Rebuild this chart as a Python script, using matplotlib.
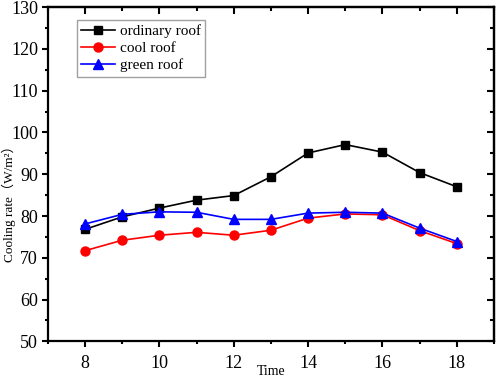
import numpy as np
import matplotlib.pyplot as plt
from matplotlib.ticker import MultipleLocator

plt.rcParams['font.family'] = ['Liberation Serif', 'Noto Sans CJK SC']

time = [8, 9, 10, 11, 12, 13, 14, 15, 16, 17, 18]
ordinary_roof = [76.8, 79.8, 81.9, 83.8, 84.9, 89.4, 95.1, 97.1, 95.3, 90.4, 87.0]
cool_roof = [71.7, 74.2, 75.4, 76.1, 75.4, 76.6, 79.5, 80.5, 80.3, 76.5, 73.4]
green_roof = [78.1, 80.4, 81.0, 80.9, 79.2, 79.2, 80.7, 80.9, 80.7, 77.1, 73.9]

fig = plt.figure(figsize=(4.98, 3.78), dpi=100)
ax = fig.add_axes([0.096, 0.097, 0.896, 0.884])

ax.plot(time, ordinary_roof, color='black', marker='s', markersize=6, linewidth=1.2, label='ordinary roof')
ax.plot(time, cool_roof, color='red', marker='o', markersize=6.5, linewidth=1.2, label='cool roof')
ax.plot(time, green_roof, color='blue', marker='^', markersize=7, linewidth=1.2, label='green roof')

ax.set_xlim(7, 19)
ax.set_ylim(50, 130)
ax.xaxis.set_major_locator(MultipleLocator(2))
ax.xaxis.set_minor_locator(MultipleLocator(1))
ax.yaxis.set_major_locator(MultipleLocator(10))
ax.yaxis.set_minor_locator(MultipleLocator(5))
ax.tick_params(which='both', direction='out', labelsize=13, width=1.5)
ax.tick_params(which='major', length=4)
ax.tick_params(which='minor', length=2)
ax.tick_params(axis='x', pad=6)
ax.tick_params(axis='y', pad=3)

# top / right ticks point inward
top = ax.secondary_xaxis('top')
top.xaxis.set_major_locator(MultipleLocator(2))
top.xaxis.set_minor_locator(MultipleLocator(1))
top.tick_params(which='both', direction='in', labeltop=False, width=1.5)
top.tick_params(which='major', length=5)
top.tick_params(which='minor', length=3)
right = ax.secondary_yaxis('right')
right.yaxis.set_major_locator(MultipleLocator(10))
right.yaxis.set_minor_locator(MultipleLocator(5))
right.tick_params(which='both', direction='in', labelright=False, width=1.5)
right.tick_params(which='major', length=5)
right.tick_params(which='minor', length=3)

for s in ax.spines.values():
    s.set_linewidth(1.6)
top.spines['top'].set_linewidth(1.6)
right.spines['right'].set_linewidth(1.6)

ax.set_xlabel('Time', fontsize=10)
ax.xaxis.set_label_coords(0.5, -0.072)
ax.set_ylabel('Cooling rate（W/m²）', fontsize=9.5)
ax.yaxis.set_label_coords(-0.071, 0.42)

leg = ax.legend(loc='upper left', bbox_to_anchor=(0.048, 0.985), fontsize=11,
                frameon=True, fancybox=False, edgecolor='#888888', handlelength=2.2,
                handletextpad=0.3, borderpad=0.3, labelspacing=0.22)
leg.get_frame().set_linewidth(1.0)

fig.savefig('out.png', dpi=100)
